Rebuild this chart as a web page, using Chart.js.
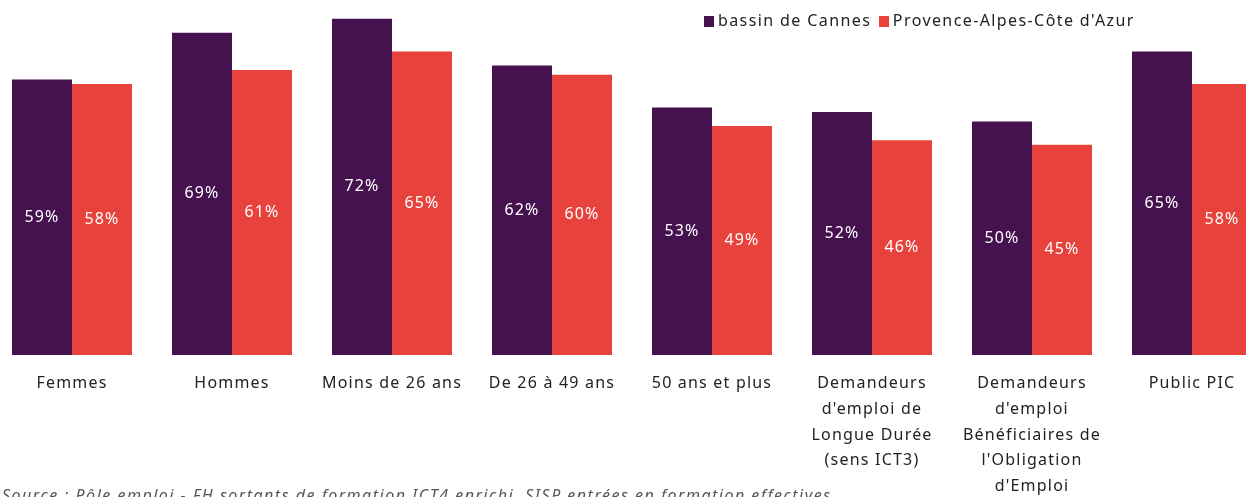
<!DOCTYPE html>
<html>
<head>
<meta charset="utf-8">
<script src="https://cdn.jsdelivr.net/npm/chart.js@4.4.0/dist/chart.umd.min.js"></script>
<style>
  html, body { margin: 0; padding: 0; background: #fff; overflow: hidden; }
  body { width: 1246px; height: 497px; position: relative; font-family: "Noto Sans", sans-serif; }
  #wrap { position: absolute; left: -8px; top: 0; width: 1280px; height: 507px; }
  #legend { position: absolute; left: 704px; top: 9px; font-size: 16px; letter-spacing: 1.4px; color: #222; white-space: nowrap; }
  #legend span.sw { display: inline-block; width: 10px; height: 11px; margin-right: 4px; vertical-align: -1px; }
  #legend span.item { margin-right: 2px; }
  #source { position: absolute; left: 2px; top: 484px; font-size: 16px; letter-spacing: 1.5px; font-style: italic; color: #555; white-space: nowrap; }
</style>
</head>
<body>
<div id="wrap"><canvas id="chart"></canvas></div>
<div id="legend">
  <span class="item"><span class="sw" style="background:#46114f"></span>bassin de Cannes</span>
  <span class="item"><span class="sw" style="background:#e8423c"></span>Provence-Alpes-Côte d'Azur</span>
</div>
<div id="source">Source : Pôle emploi - FH sortants de formation ICT4 enrichi, SISP entrées en formation effectives</div>
<script>
// categories and values
const categories = [
  ["Femmes"],
  ["Hommes"],
  ["Moins de 26 ans"],
  ["De 26 à 49 ans"],
  ["50 ans et plus"],
  ["Demandeurs", "d'emploi de", "Longue Durée", "(sens ICT3)"],
  ["Demandeurs", "d'emploi", "Bénéficiaires de", "l'Obligation", "d'Emploi"],
  ["Public PIC"],
];
const cannes = [59, 69, 72, 62, 53, 52, 50, 65];
const paca = [58, 61, 65, 60, 49, 46, 45, 58];

// wider text like the original Calibri rendering
const spacing = {
  id: "spacing",
  beforeLayout(chart) { chart.ctx.letterSpacing = "1.2px"; },
  beforeDraw(chart) { chart.ctx.letterSpacing = "1.2px"; },
};

// white % labels in the middle of each bar
const barLabels = {
  id: "barLabels",
  afterDatasetsDraw(chart) {
    const ctx = chart.ctx;
    ctx.save();
    ctx.fillStyle = "#fff";
    ctx.font = "16px 'Noto Sans'";
    ctx.textAlign = "center";
    ctx.textBaseline = "middle";
    chart.data.datasets.forEach((ds, i) => {
      chart.getDatasetMeta(i).data.forEach((bar, j) => {
        const y = (bar.y + bar.base) / 2;
        ctx.fillText(ds.data[j] + "%", bar.x, y);
      });
    });
    ctx.restore();
  },
};

new Chart(document.getElementById("chart"), {
  type: "bar",
  data: {
    labels: categories,
    datasets: [
      { label: "bassin de Cannes", data: cannes, backgroundColor: "#46114f" },
      { label: "Provence-Alpes-Côte d'Azur", data: paca, backgroundColor: "#e8423c" },
    ],
  },
  options: {
    responsive: true,
    maintainAspectRatio: false,
    animation: false,
    layout: { padding: 0 },
    plugins: {
      legend: { display: false },
      tooltip: { enabled: false },
    },
    datasets: {
      bar: { categoryPercentage: 0.75, barPercentage: 1 },
    },
    scales: {
      y: { display: false, min: 0, max: 76 },
      x: {
        grid: { display: false },
        border: { display: false },
        ticks: {
          color: "#222",
          padding: 8,
          maxRotation: 0,
          autoSkip: false,
          font: { family: "Noto Sans", size: 16, lineHeight: 1.6 },
        },
      },
    },
  },
  plugins: [spacing, barLabels],
});
</script>
</body>
</html>
